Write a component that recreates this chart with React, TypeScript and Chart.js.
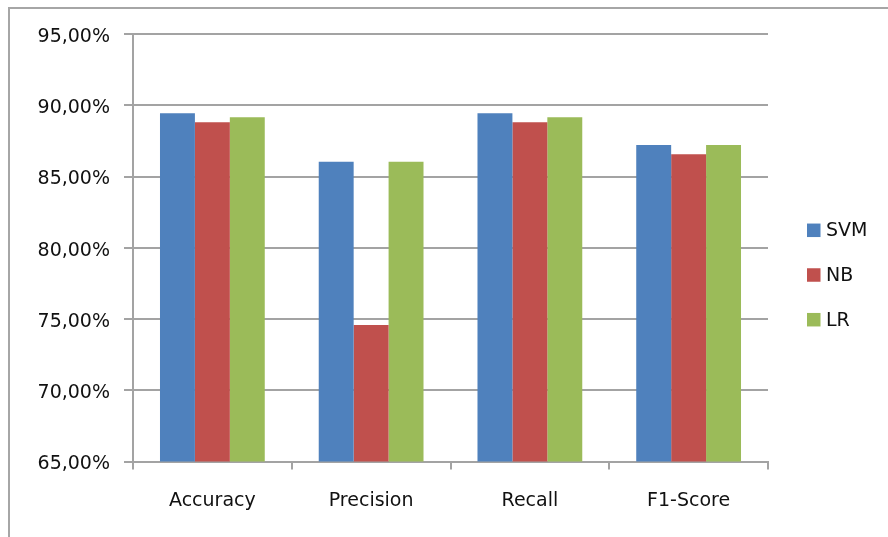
import React, { useEffect, useRef } from "react";
import { Chart, registerables } from "chart.js";

Chart.register(...registerables);

// Metrics shown on the category axis
const categories = ["Accuracy", "Precision", "Recall", "F1-Score"];

// Scores per classifier, in percent
const svmScores = [89.43, 86.04, 89.43, 87.21];
const nbScores = [88.8, 74.58, 88.8, 86.56];
const lrScores = [89.15, 86.04, 89.15, 87.21];

const seriesNames = ["SVM", "NB", "LR"];
const seriesColors = ["#4f81bd", "#c0504d", "#9bbb59"];

// Value axis range and step
const yMin = 65;
const yMax = 95;
const yStep = 5;

const FONT = "'DejaVu Sans', sans-serif";
const TEXT_COLOR = "#111111";
const GRID_COLOR = "#a3a3a3";

const formatPercent = (v: number) => `${v.toFixed(2).replace(".", ",")}%`;

// Frame around the whole chart plus a square-marker legend on the right
const framePlugin = {
  id: "frameAndLegend",
  beforeDraw(chart: Chart) {
    const { ctx, width, height } = chart;
    ctx.save();
    ctx.fillStyle = "#ffffff";
    ctx.fillRect(0, 0, width, height);
    ctx.strokeStyle = "#a6a6a6";
    ctx.lineWidth = 2;
    ctx.beginPath();
    ctx.moveTo(9, height + 5);
    ctx.lineTo(9, 8);
    ctx.lineTo(width + 5, 8);
    ctx.stroke();
    ctx.restore();
  },
  afterDraw(chart: Chart) {
    const { ctx } = chart;
    const datasets = chart.data.datasets;
    const boxX = 807;
    const box = 13.5;
    const firstY = 230.3;
    const gap = 44.7;
    ctx.save();
    ctx.font = `19px ${FONT}`;
    ctx.textBaseline = "middle";
    ctx.textAlign = "left";
    datasets.forEach((ds: any, i: number) => {
      const cy = firstY + i * gap;
      ctx.fillStyle = ds.backgroundColor as string;
      ctx.fillRect(boxX, cy - box / 2, box, box);
      ctx.fillStyle = TEXT_COLOR;
      ctx.fillText(ds.label as string, 826, cy + 1);
    });
    ctx.restore();
  },
};

export default function App() {
  const canvasRef = useRef<HTMLCanvasElement | null>(null);

  useEffect(() => {
    const canvas = canvasRef.current;
    if (!canvas) return;
    const seriesValues = [svmScores, nbScores, lrScores];
    const chart = new Chart(canvas, {
      type: "bar",
      data: {
        labels: categories,
        datasets: seriesNames.map((name, i) => ({
          label: name,
          data: seriesValues[i],
          backgroundColor: seriesColors[i],
          borderWidth: 0,
          categoryPercentage: 0.66,
          barPercentage: 1.0,
        })),
      },
      options: {
        responsive: false,
        animation: false,
        layout: { padding: { left: 0, top: 34, right: 120, bottom: 0 } },
        plugins: {
          legend: { display: false },
          tooltip: { enabled: false },
        },
        scales: {
          x: {
            grid: {
              display: true,
              drawOnChartArea: false,
              drawTicks: true,
              tickLength: 8,
              color: GRID_COLOR,
              lineWidth: 2,
              offset: true,
            },
            border: { display: true, color: GRID_COLOR, width: 2 },
            ticks: {
              color: TEXT_COLOR,
              font: { family: FONT, size: 19 },
              padding: 20,
              maxRotation: 0,
            },
            afterFit(scale: any) {
              scale.height = 75.5;
            },
          },
          y: {
            min: yMin,
            max: yMax,
            grid: {
              color: GRID_COLOR,
              lineWidth: 2,
              drawTicks: true,
              tickLength: 9,
            },
            border: { display: true, color: GRID_COLOR, width: 2 },
            ticks: {
              stepSize: yStep,
              color: TEXT_COLOR,
              font: { family: FONT, size: 19 },
              padding: 14,
              labelOffset: 3,
              callback: (v: any) => formatPercent(Number(v)),
            },
            afterFit(scale: any) {
              scale.width = 133;
            },
          },
        },
      },
      plugins: [framePlugin],
    });
    return () => chart.destroy();
  }, []);

  return (
    <div style={{ position: "fixed", left: 0, top: 0, width: 888, height: 537, background: "#fff" }}>
      <canvas ref={canvasRef} width={888} height={537} style={{ display: "block" }} />
    </div>
  );
}
